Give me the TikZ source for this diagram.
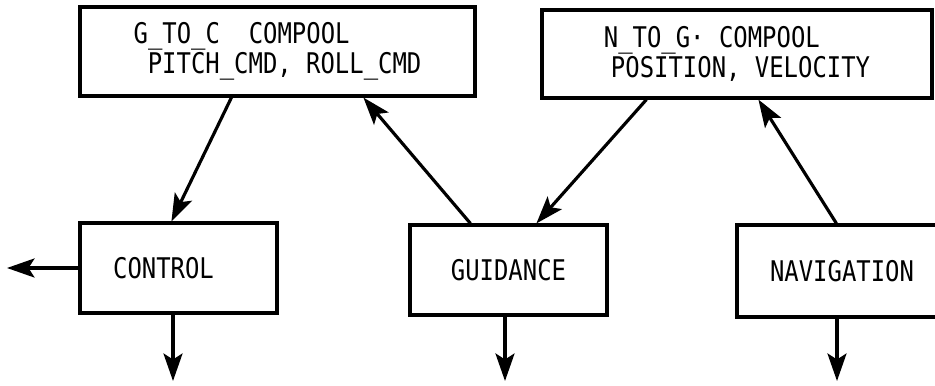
\documentclass[tikz,border=0pt]{standalone}
\usepackage{fontspec}
\setmonofont[FakeStretch=0.84]{DejaVu Sans Mono}
\usetikzlibrary{positioning,arrows.meta}

\begin{document}
\begin{tikzpicture}[
  modbox/.style={rectangle, draw, line width=1.8pt, align=left, inner sep=0pt,
    font=\ttfamily\fontsize{16.2}{14.7}\selectfont},
  flow/.style={-{Stealth[length=0.55cm, width=0.38cm, inset=0.12cm]}, line width=1.8pt},
]
\useasboundingbox (0,0) rectangle (18.7,7.7);
\clip (0,0) rectangle (18.7,7.7);

% === Compools ===
\node[modbox, minimum width=7.9cm, minimum height=1.78cm] (g2c) at (5.55, 6.67)
  {G\_TO\_C\ \ COMPOOL\\\hspace*{0.5em}PITCH\_CMD, ROLL\_CMD};
\node[modbox, minimum width=7.8cm, minimum height=1.76cm] (n2g) at (14.74, 6.62)
  {N\_TO\_G· COMPOOL\\\hspace*{0.25em}POSITION, VELOCITY};

% === Modules ===
\node[modbox, minimum width=3.94cm, minimum height=1.8cm] (ctrl) at (3.57, 2.34) {CONTROL\hspace*{0.6cm}};
\node[modbox, minimum width=3.94cm, minimum height=1.8cm] (guid) at (10.17, 2.3) {GUIDANCE};
\node[modbox, minimum width=4.2cm, minimum height=1.84cm] (nav) at (16.84, 2.28) {NAVIGATION};

% free ends
\coordinate (ctrlout) at (0.14, 2.34);
\coordinate (ctrldn) at (3.46, 0.08);
\coordinate (guiddn) at (10.1, 0.08);
\coordinate (navdn) at (16.74, 0.08);

% === Data flow ===
\draw[flow] ([xshift=3.06cm]g2c.south west) -- ([xshift=1.86cm]ctrl.north west);
\draw[flow] ([xshift=1.24cm]guid.north west) -- ([xshift=5.7cm]g2c.south west);
\draw[flow] ([xshift=2.12cm]n2g.south west) -- ([xshift=2.56cm]guid.north west);
\draw[flow] ([xshift=2.02cm]nav.north west) -- ([xshift=4.36cm]n2g.south west);

% === Outputs ===
\draw[flow] (ctrl.west) -- (ctrlout);
\draw[flow] (ctrl.south -| ctrldn) -- (ctrldn);
\draw[flow] (guid.south -| guiddn) -- (guiddn);
\draw[flow] (nav.south -| navdn) -- (navdn);

\end{tikzpicture}
\end{document}
